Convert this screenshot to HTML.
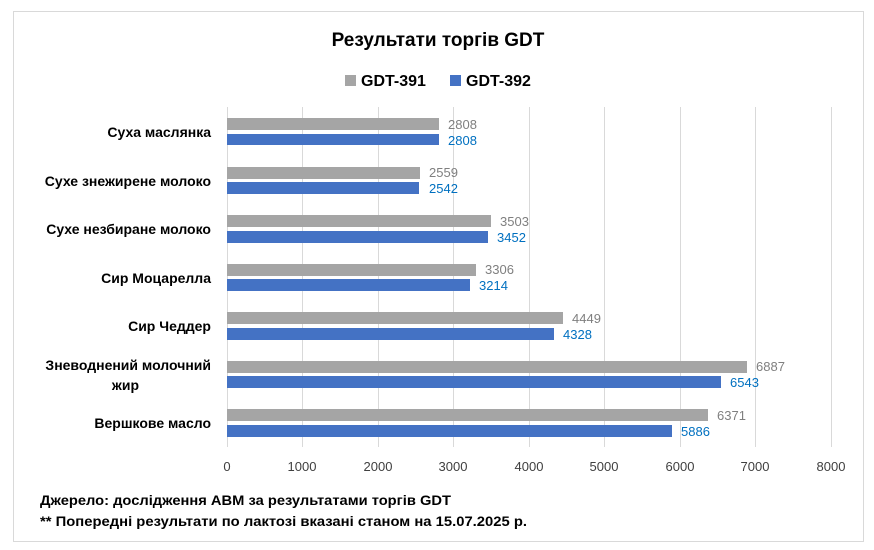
<!DOCTYPE html>
<html><head><meta charset="utf-8"><style>
body{margin:0;background:#fff}
svg text{font-family:"Liberation Sans","DejaVu Sans",sans-serif}
</style></head><body>
<svg width="874" height="545" viewBox="0 0 874 545" xmlns="http://www.w3.org/2000/svg">
<rect x="0" y="0" width="874" height="545" fill="#fff"/>
<rect x="13.5" y="11.5" width="850" height="530" fill="#fff" stroke="#d9d9d9"/>
<text x="438" y="46" text-anchor="middle" font-size="19" font-weight="bold" fill="#000">Результати торгів GDT</text>
<rect x="345" y="75" width="11" height="11" fill="#a5a5a5"/>
<text x="361" y="86" font-size="16" font-weight="bold">GDT-391</text>
<rect x="450" y="75" width="11" height="11" fill="#4472c4"/>
<text x="466" y="86" font-size="16" font-weight="bold">GDT-392</text>
<g stroke="#d9d9d9" stroke-width="1">
<line x1="227.5" y1="107" x2="227.5" y2="447"/>
<line x1="302.5" y1="107" x2="302.5" y2="447"/>
<line x1="378.5" y1="107" x2="378.5" y2="447"/>
<line x1="453.5" y1="107" x2="453.5" y2="447"/>
<line x1="529.5" y1="107" x2="529.5" y2="447"/>
<line x1="604.5" y1="107" x2="604.5" y2="447"/>
<line x1="680.5" y1="107" x2="680.5" y2="447"/>
<line x1="755.5" y1="107" x2="755.5" y2="447"/>
<line x1="831.5" y1="107" x2="831.5" y2="447"/>
</g>
<g font-size="13" fill="#404040" text-anchor="middle">
<text x="227" y="471">0</text><text x="302" y="471">1000</text><text x="378" y="471">2000</text><text x="453" y="471">3000</text><text x="529" y="471">4000</text><text x="604" y="471">5000</text><text x="680" y="471">6000</text><text x="755" y="471">7000</text><text x="831" y="471">8000</text>
</g>
<g font-size="13">
<rect x="227" y="118" width="212" height="12" fill="#a5a5a5"/><rect x="227" y="134" width="212" height="11" fill="#4472c4"/>
<text x="448" y="129" fill="#7f7f7f">2808</text><text x="448" y="145" fill="#0070c0">2808</text>
<rect x="227" y="167" width="193" height="12" fill="#a5a5a5"/><rect x="227" y="182" width="192" height="12" fill="#4472c4"/>
<text x="429" y="177" fill="#7f7f7f">2559</text><text x="429" y="193" fill="#0070c0">2542</text>
<rect x="227" y="215" width="264" height="12" fill="#a5a5a5"/><rect x="227" y="231" width="261" height="12" fill="#4472c4"/>
<text x="500" y="226" fill="#7f7f7f">3503</text><text x="497" y="242" fill="#0070c0">3452</text>
<rect x="227" y="264" width="249" height="12" fill="#a5a5a5"/><rect x="227" y="279" width="243" height="12" fill="#4472c4"/>
<text x="485" y="274" fill="#7f7f7f">3306</text><text x="479" y="290" fill="#0070c0">3214</text>
<rect x="227" y="312" width="336" height="12" fill="#a5a5a5"/><rect x="227" y="328" width="327" height="12" fill="#4472c4"/>
<text x="572" y="323" fill="#7f7f7f">4449</text><text x="563" y="339" fill="#0070c0">4328</text>
<rect x="227" y="361" width="520" height="12" fill="#a5a5a5"/><rect x="227" y="376" width="494" height="12" fill="#4472c4"/>
<text x="756" y="371" fill="#7f7f7f">6887</text><text x="730" y="387" fill="#0070c0">6543</text>
<rect x="227" y="409" width="481" height="12" fill="#a5a5a5"/><rect x="227" y="425" width="445" height="12" fill="#4472c4"/>
<text x="717" y="420" fill="#7f7f7f">6371</text><text x="681" y="436" fill="#0070c0">5886</text>
</g>
<g font-size="14" font-weight="bold" text-anchor="end" fill="#000">
<text x="211" y="137">Суха маслянка</text>
<text x="211" y="186">Сухе знежирене молоко</text>
<text x="211" y="234">Сухе незбиране молоко</text>
<text x="211" y="283">Сир Моцарелла</text>
<text x="211" y="331">Сир Чеддер</text>
<text x="211" y="370">Зневоднений молочний</text>
<text x="139" y="390">жир</text>
<text x="211" y="428">Вершкове масло</text>
</g>
<g font-size="14" font-weight="bold" fill="#000">
<text x="40" y="505" textLength="411" lengthAdjust="spacingAndGlyphs">Джерело: дослідження АВМ за результатами торгів GDT</text>
<text x="40" y="526" textLength="487" lengthAdjust="spacingAndGlyphs">** Попередні результати по лактозі вказані станом на 15.07.2025 р.</text>
</g>
</svg>
</body></html>
